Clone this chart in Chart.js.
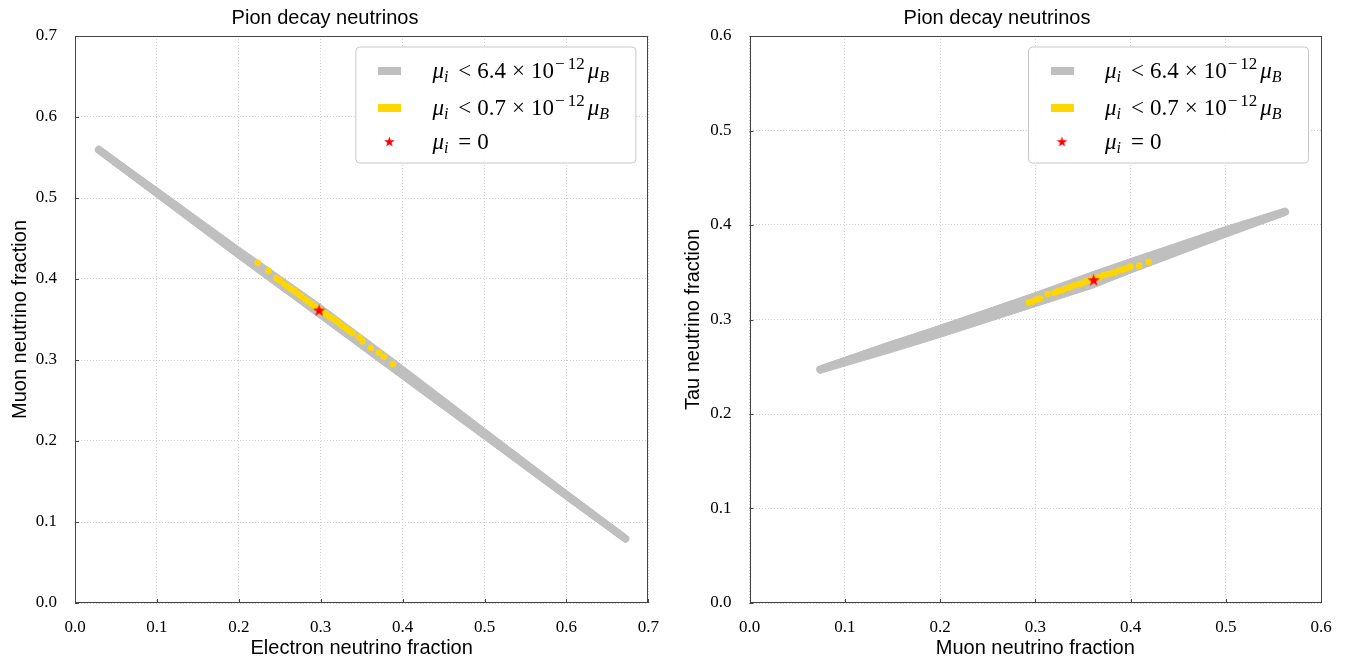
<!DOCTYPE html>
<html>
<head>
<meta charset="utf-8">
<script src="https://cdn.jsdelivr.net/npm/chart.js@4.4.0/dist/chart.umd.min.js"></script>
<style>
    body { margin: 0; background: #fff; }
    .panel { position: absolute; top: 0; width: 673px; height: 660px; }
</style>
</head>
<body>
<div class="panel" style="left:0"><canvas id="leftChart" width="673" height="660"></canvas></div>
<div class="panel" style="left:673px"><canvas id="rightChart" width="673" height="660"></canvas></div>
<script>
// ---- data ----
const leftTicksX = [0.0, 0.1, 0.2, 0.3, 0.4, 0.5, 0.6, 0.7];
const leftTicksY = [0.0, 0.1, 0.2, 0.3, 0.4, 0.5, 0.6, 0.7];
const rightTicksX = [0.0, 0.1, 0.2, 0.3, 0.4, 0.5, 0.6];
const rightTicksY = [0.0, 0.1, 0.2, 0.3, 0.4, 0.5, 0.6];

// grey band (mu_i < 6.4e-12 mu_B), electron vs muon fraction
const leftBandX     = [0.029, 0.10, 0.20, 0.30, 0.40, 0.50, 0.60, 0.672];
const leftBandUpper = [0.5645, 0.5130, 0.4398, 0.3686, 0.2930, 0.2158, 0.1391, 0.0845];
const leftBandLower = [0.5545, 0.5005, 0.4248, 0.3506, 0.2760, 0.2018, 0.1271, 0.0745];
const leftBandEndsX = [0.029, 0.672];
const leftBandEndsY = [0.5595, 0.0795];

// yellow points (mu_i < 0.7e-12 mu_B)
const leftYellowX = [0.223, 0.236, 0.246, 0.250, 0.255, 0.259, 0.263, 0.268, 0.272, 0.276, 0.281, 0.285, 0.289, 0.293, 0.297,
                     0.302, 0.306, 0.310, 0.315, 0.319, 0.323, 0.327, 0.331, 0.335, 0.339, 0.347, 0.351, 0.361, 0.371, 0.377, 0.388];
const leftYellowY = [0.420, 0.410, 0.401, 0.398, 0.394, 0.391, 0.388, 0.385, 0.382, 0.379, 0.375, 0.372, 0.369, 0.366, 0.363,
                     0.360, 0.357, 0.354, 0.351, 0.348, 0.345, 0.342, 0.339, 0.336, 0.333, 0.328, 0.323, 0.315, 0.309, 0.304, 0.295];
const leftStar = [0.298, 0.3617];

// muon vs tau fraction
const rightBandX     = [0.0742, 0.15, 0.20, 0.26, 0.30, 0.36, 0.40, 0.45, 0.50, 0.5624];
const rightBandUpper = [0.251, 0.2775, 0.2935, 0.3145, 0.3285, 0.3505, 0.3645, 0.3815, 0.3985, 0.418];
const rightBandLower = [0.243, 0.2655, 0.2810, 0.3005, 0.3135, 0.3330, 0.3490, 0.3680, 0.3870, 0.410];
const rightBandEndsX = [0.0742, 0.5624];
const rightBandEndsY = [0.247, 0.414];

const rightYellowX = [0.293, 0.297, 0.301, 0.305, 0.313, 0.320, 0.324, 0.328, 0.332, 0.336, 0.340, 0.344, 0.348, 0.352,
                      0.356, 0.360, 0.364, 0.368, 0.372, 0.376, 0.380, 0.384, 0.388, 0.392, 0.396, 0.400, 0.409, 0.419];
const rightYellowY = [0.318, 0.319, 0.321, 0.322, 0.327, 0.328, 0.330, 0.331, 0.333, 0.334, 0.336, 0.337, 0.338, 0.340,
                      0.341, 0.343, 0.344, 0.345, 0.347, 0.348, 0.349, 0.350, 0.352, 0.353, 0.354, 0.356, 0.357, 0.361];
const rightStar = [0.3613, 0.342];

const GREY = '#bfbfbf';
const YELLOW = '#ffd700';
const RED = '#ff0000';

// legend entries: italic / sub / sup pieces of the math labels
const legendLabels = [
    [['μ', 'it'], ['i', 'itsub'], ['<', 'rel'], ['6.4', 'rm'], ['×', 'bin'], ['10', 'rm'], ['−', 'supminus'], ['12', 'sup'], ['μ', 'it'], ['B', 'itsub']],
    [['μ', 'it'], ['i', 'itsub'], ['<', 'rel'], ['0.7', 'rm'], ['×', 'bin'], ['10', 'rm'], ['−', 'supminus'], ['12', 'sup'], ['μ', 'it'], ['B', 'itsub']],
    [['μ', 'it'], ['i', 'itsub'], ['=', 'rel'], ['0', 'rm']]
];

function pts(xs, ys) {
    return xs.map((x, i) => ({ x: x, y: ys[i] }));
}

function makeStar(r, color) {
    const c = document.createElement('canvas');
    c.width = Math.ceil(2 * r + 2);
    c.height = Math.ceil(2 * r + 2);
    const g = c.getContext('2d');
    g.translate(c.width / 2, c.height / 2 + r * 0.1);
    g.beginPath();
    for (let k = 0; k < 10; k++) {
        const rad = k % 2 === 0 ? r : r * 0.4;
        const a = -Math.PI / 2 + k * Math.PI / 5;
        g.lineTo(rad * Math.cos(a), rad * Math.sin(a));
    }
    g.closePath();
    g.fillStyle = color;
    g.fill();
    return c;
}

function makeRect(w, h, color) {
    const c = document.createElement('canvas');
    c.width = w;
    c.height = h;
    const g = c.getContext('2d');
    g.fillStyle = color;
    g.fillRect(0, 0, w, h);
    return c;
}

const starPoint = makeStar(6.5, RED);
const legendHandles = [makeRect(23, 8, GREY), makeRect(23, 8, YELLOW), makeStar(5.5, RED)];

function drawMath(ctx, parts, x, y) {
    const serif = '"Liberation Serif", "DejaVu Serif", serif';
    parts.forEach(([t, kind]) => {
        let font = '23px ' + serif, dy = 0, before = 0, after = 0;
        if (kind === 'it') font = 'italic 23px ' + serif;
        if (kind === 'itsub') { font = 'italic 16px ' + serif; dy = 4; after = 1; }
        if (kind === 'supminus') { font = '17px ' + serif; dy = -9; before = 1; after = 3; }
        if (kind === 'sup') { font = '17px ' + serif; dy = -9; after = 3; }
        if (kind === 'rel') { before = 9; after = 6; }
        if (kind === 'bin') { before = 6; after = 6; }
        ctx.font = font;
        x += before;
        ctx.fillText(t, x, y + dy);
        x += ctx.measureText(t).width + after;
    });
}

const mathLegend = {
    id: 'mathLegend',
    afterDraw(chart) {
        const { ctx, chartArea: a } = chart;
        const w = 280, h = 116;
        const left = a.right - 13 - w, top = a.top + 10.5;
        ctx.save();
        ctx.beginPath();
        ctx.roundRect(left + 0.5, top + 0.5, w, h, 4);
        ctx.fillStyle = 'rgba(255,255,255,0.9)';
        ctx.fill();
        ctx.strokeStyle = '#c8c8c8';
        ctx.lineWidth = 1;
        ctx.stroke();
        const rows = [24, 61.5, 95];
        rows.forEach((ry, i) => {
            const img = legendHandles[i];
            ctx.drawImage(img, left + 34 - img.width / 2, top + ry - img.height / 2);
            ctx.fillStyle = '#000';
            ctx.textBaseline = 'alphabetic';
            ctx.textAlign = 'left';
            drawMath(ctx, legendLabels[i], left + 77, top + ry + 7);
        });
        ctx.restore();
    }
};

const frame = {
    id: 'frame',
    afterDatasetsDraw(chart) {
        const { ctx, chartArea: a, scales } = chart;
        ctx.save();
        ctx.strokeStyle = '#444';
        ctx.lineWidth = 1;
        ctx.beginPath();
        scales.x.ticks.forEach(t => {
            const px = Math.round(scales.x.getPixelForValue(t.value)) + 0.5;
            ctx.moveTo(px, a.bottom);
            ctx.lineTo(px, a.bottom - 4);
        });
        scales.y.ticks.forEach(t => {
            const py = Math.round(scales.y.getPixelForValue(t.value)) + 0.5;
            ctx.moveTo(a.left, py);
            ctx.lineTo(a.left + 4, py);
        });
        ctx.stroke();
        ctx.strokeRect(Math.round(a.left) + 0.5, Math.round(a.top) + 0.5,
                       Math.round(a.width) - 1, Math.round(a.height) - 1);
        ctx.restore();
    }
};

function buildChart(id, p) {
    const serif = '"Liberation Serif", "DejaVu Serif", serif';
    const sans = '"Liberation Sans", Arial, sans-serif';
    const axis = (ticks, title, isX) => ({
        type: 'linear',
        min: ticks[0],
        max: ticks[ticks.length - 1],
        afterBuildTicks: scale => { scale.ticks = ticks.map(v => ({ value: v })); },
        afterFit: scale => {
            if (isX) scale.height = 57; else scale.width = p.yAxisWidth;
        },
        ticks: {
            color: '#000',
            padding: isX ? 14 : 18,
            maxRotation: 0,
            font: { family: serif, size: 17 },
            callback: v => v.toFixed(1)
        },
        grid: { color: '#cfcfcf', lineWidth: 1, drawTicks: false },
        border: { display: false, dash: [1, 2] },
        title: {
            display: true,
            text: title,
            color: '#000',
            font: { family: sans, size: 20, lineHeight: 1 },
            padding: isX ? { top: 0, bottom: 2 } : { top: 10, bottom: 0 }
        }
    });

    return new Chart(document.getElementById(id), {
        type: 'scatter',
        data: {
            datasets: [
                {
                    label: 'mu_i = 0',
                    data: [{ x: p.star[0], y: p.star[1] }],
                    pointStyle: starPoint,
                    pointRadius: 6,
                    order: 0
                },
                {
                    label: 'mu_i < 0.7e-12 mu_B',
                    data: pts(p.yellowX, p.yellowY),
                    backgroundColor: YELLOW,
                    borderWidth: 0,
                    pointRadius: 3.3,
                    order: 1
                },
                {
                    label: 'band ends',
                    data: pts(p.endsX, p.endsY),
                    showLine: true,
                    borderColor: GREY,
                    borderWidth: 8,
                    borderCapStyle: 'round',
                    pointRadius: 0,
                    order: 2
                },
                {
                    label: 'mu_i < 6.4e-12 mu_B',
                    data: pts(p.bandX, p.bandUpper),
                    showLine: true,
                    borderColor: GREY,
                    borderWidth: 1,
                    backgroundColor: GREY,
                    fill: '+1',
                    pointRadius: 0,
                    order: 3
                },
                {
                    label: 'band lower',
                    data: pts(p.bandX, p.bandLower),
                    showLine: true,
                    borderColor: GREY,
                    borderWidth: 1,
                    pointRadius: 0,
                    order: 4
                }
            ]
        },
        options: {
            responsive: false,
            animation: false,
            events: [],
            layout: { padding: { left: 0, right: p.padRight, top: 0, bottom: 0 } },
            scales: {
                x: axis(p.ticksX, p.xTitle, true),
                y: axis(p.ticksY, p.yTitle, false)
            },
            plugins: {
                legend: { display: false },
                tooltip: { enabled: false },
                title: {
                    display: true,
                    text: 'Pion decay neutrinos',
                    color: '#000',
                    font: { family: sans, size: 20, weight: 'normal', lineHeight: 1.2 },
                    padding: { top: 6, bottom: 6 }
                }
            }
        },
        plugins: [frame, mathLegend]
    });
}

buildChart('leftChart', {
    ticksX: leftTicksX, ticksY: leftTicksY,
    xTitle: 'Electron neutrino fraction', yTitle: 'Muon neutrino fraction',
    bandX: leftBandX, bandUpper: leftBandUpper, bandLower: leftBandLower,
    endsX: leftBandEndsX, endsY: leftBandEndsY,
    yellowX: leftYellowX, yellowY: leftYellowY, star: leftStar,
    yAxisWidth: 75, padRight: 23
});

buildChart('rightChart', {
    ticksX: rightTicksX, ticksY: rightTicksY,
    xTitle: 'Muon neutrino fraction', yTitle: 'Tau neutrino fraction',
    bandX: rightBandX, bandUpper: rightBandUpper, bandLower: rightBandLower,
    endsX: rightBandEndsX, endsY: rightBandEndsY,
    yellowX: rightYellowX, yellowY: rightYellowY, star: rightStar,
    yAxisWidth: 76.5, padRight: 25
});
</script>
</body>
</html>
